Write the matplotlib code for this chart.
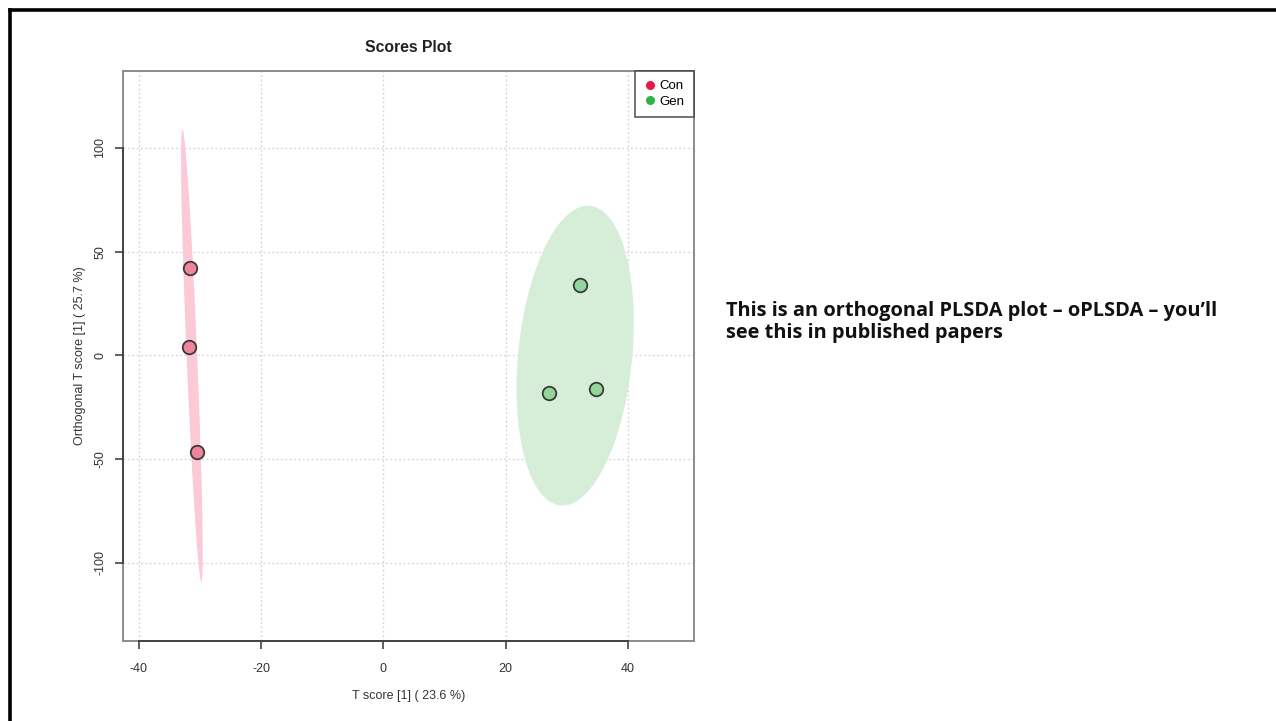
import numpy as np
import matplotlib
matplotlib.use("Agg")
import matplotlib.pyplot as plt
from matplotlib.lines import Line2D

# OPLS-DA scores
groups = ["Con", "Gen"]
t_score = {
    "Con": [-31.7, -31.8, -30.5],
    "Gen": [32.2, 27.1, 34.8],
}
orth_score = {
    "Con": [42.2, 4.1, -46.5],
    "Gen": [34.0, -18.1, -16.1],
}
point_colors = {"Con": "#F0849A", "Gen": "#92D69A"}
ellipse_colors = {"Con": "#FBCAD6", "Gen": "#D6EED8"}
legend_colors = {"Con": "#E8174A", "Gen": "#2DB34A"}

x_ticks = [-40, -20, 0, 20, 40]
y_ticks = [-100, -50, 0, 50, 100]
x_label = "T score [1] ( 23.6 %)"
y_label = "Orthogonal T score [1] ( 25.7 %)"
title = "Scores Plot"
note = "This is an orthogonal PLSDA plot \u2013 oPLSDA \u2013 you\u2019ll\nsee this in published papers"

XLIM = (-42.6, 50.8)
YLIM = (-137.6, 137.1)


def conf_ellipse(x, y, level_chi2=5.991464547107979, n=200):
    """95% confidence ellipse from the sample covariance of the points."""
    pts = np.column_stack([x, y])
    mu = pts.mean(axis=0)
    cov = np.cov(pts, rowvar=False)
    vals, vecs = np.linalg.eigh(cov)
    t = np.linspace(0, 2 * np.pi, n)
    circ = np.vstack([np.cos(t), np.sin(t)])
    shape = vecs @ np.diag(np.sqrt(vals * level_chi2)) @ circ
    return mu[0] + shape[0], mu[1] + shape[1]


W, H = 1276, 721
fig = plt.figure(figsize=(W / 100, H / 100), dpi=100)
fig.patch.set_facecolor("white")

# slide border (top and left edges)
fig.add_artist(Line2D([10 / W, 1.0], [1 - 10 / H, 1 - 10 / H], color="black", lw=2.6,
                      transform=fig.transFigure))
fig.add_artist(Line2D([10 / W, 10 / W], [0.0, 1 - 10 / H], color="black", lw=2.6,
                      transform=fig.transFigure))

ax = fig.add_axes([123 / W, 1 - 641 / H, (694 - 123) / W, (641 - 71) / H])
ax.set_xlim(*XLIM)
ax.set_ylim(*YLIM)

# dotted grid
for xv in x_ticks:
    ax.axvline(xv, color="#D4D4D4", lw=0.9, ls=(0, (1.5, 2)), zorder=0)
for yv in y_ticks:
    ax.axhline(yv, color="#D4D4D4", lw=0.9, ls=(0, (1.5, 2)), zorder=0)

for g in groups:
    ex, ey = conf_ellipse(t_score[g], orth_score[g])
    ax.fill(ex, ey, color=ellipse_colors[g], lw=0, zorder=1)
for g in groups:
    ax.scatter(t_score[g], orth_score[g], s=95, c=point_colors[g],
               edgecolors="#3A3A3A", linewidths=1.3, zorder=3)

for sp in ax.spines.values():
    sp.set_color("#8C8C8C")
    sp.set_linewidth(1.4)

# axis lines spanning the tick range
ax.plot([x_ticks[0], x_ticks[-1]], [YLIM[0], YLIM[0]], color="#444444", lw=1.4,
        clip_on=False, zorder=5)
ax.plot([XLIM[0], XLIM[0]], [y_ticks[0], y_ticks[-1]], color="#444444", lw=1.4,
        clip_on=False, zorder=5)

ax.set_xticks(x_ticks)
ax.set_yticks(y_ticks)
ax.set_xticklabels([str(v) for v in x_ticks], fontfamily="Liberation Sans", fontsize=9,
                   color="#333333")
ax.set_yticklabels([str(v) for v in y_ticks], fontfamily="Liberation Sans", fontsize=9,
                   color="#333333", rotation=90, va="center")
ax.tick_params(axis="both", direction="out", length=6, width=1.2, color="#444444")
ax.tick_params(axis="x", pad=10)
ax.tick_params(axis="y", pad=6)

ax.set_xlabel(x_label, fontfamily="Liberation Sans", fontsize=9, color="#333333", labelpad=11)
ax.set_ylabel(y_label, fontfamily="Liberation Sans", fontsize=9, color="#333333", labelpad=6)
ax.set_title(title, fontfamily="Liberation Sans", fontsize=11.3, fontweight="bold",
             color="#222222", pad=14)

handles = [Line2D([], [], marker="o", ls="none", markersize=6.5,
                  markerfacecolor=legend_colors[g], markeredgecolor="none", label=g)
           for g in groups]
leg = ax.legend(handles=handles, loc="upper right", borderaxespad=0, frameon=True,
                fancybox=False, handletextpad=0.3, borderpad=0.7, labelspacing=0.25,
                handlelength=0.9, prop={"family": "Liberation Sans", "size": 9.5})
leg.get_frame().set_edgecolor("#333333")
leg.get_frame().set_linewidth(1.2)

fig.text(726 / W, 1 - 322 / H, note, fontfamily="Open Sans", fontweight="bold", fontsize=14.4,
         color="#111111", va="center", ha="left", linespacing=1.15)

fig.savefig("out.png", dpi=100)
